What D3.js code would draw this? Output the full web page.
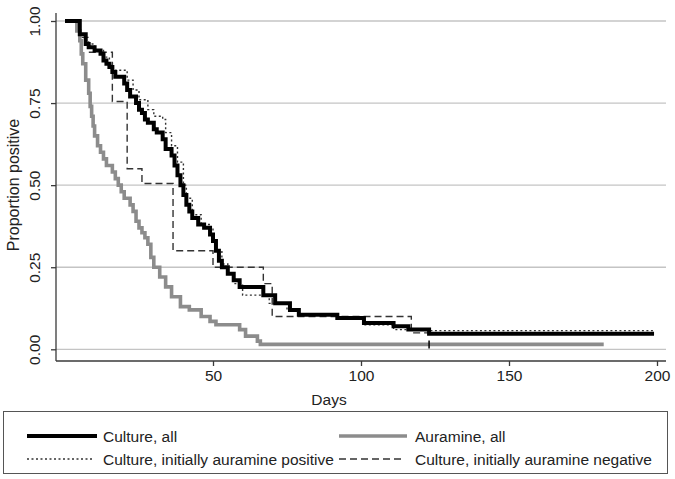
<!DOCTYPE html>
<html>
<head>
<meta charset="utf-8">
<script src="https://cdn.jsdelivr.net/npm/d3@7"></script>
<style>
  body { margin: 0; background: #fff; }
  svg { display: block; }
  text { font-family: "Liberation Sans", Arial, sans-serif; fill: #222; }
</style>
</head>
<body>
<svg id="chart" width="675" height="479"></svg>
<script>
// Kaplan-Meier style step curves: [day, proportion still positive]
var cultureAll = [
  [0, 1.0], [5, 0.96], [7, 0.93], [8, 0.92], [10, 0.91], [12, 0.90], [13, 0.88],
  [14, 0.87], [15, 0.86], [16, 0.845], [17, 0.83], [20, 0.81], [21, 0.79],
  [22, 0.77], [24, 0.75], [25, 0.73], [26, 0.72], [27, 0.70], [28, 0.69],
  [30, 0.67], [31, 0.66], [33, 0.64], [34, 0.61], [36, 0.59], [37, 0.56],
  [38, 0.53], [39, 0.50], [40, 0.47], [41, 0.44], [42, 0.42], [43, 0.40],
  [45, 0.38], [47, 0.37], [49, 0.35], [50, 0.33], [51, 0.30], [52, 0.27],
  [53, 0.25], [55, 0.23], [57, 0.21], [59, 0.19], [67, 0.165], [71, 0.14],
  [76, 0.12], [79, 0.105], [92, 0.095], [101, 0.08], [111, 0.07], [116, 0.06],
  [123, 0.047], [199, 0.047]
];

var auramineAll = [
  [0, 1.0], [4, 0.97], [5, 0.94], [5.5, 0.90], [6, 0.87], [7, 0.82], [8, 0.78],
  [8.5, 0.74], [9, 0.71], [9.5, 0.68], [10, 0.65], [11, 0.62], [12, 0.60],
  [13, 0.58], [14, 0.56], [16, 0.54], [17, 0.52], [18, 0.50], [19, 0.48],
  [20, 0.46], [22, 0.44], [23, 0.42], [24, 0.39], [25, 0.37], [26, 0.355],
  [27, 0.34], [28, 0.32], [29, 0.28], [30, 0.25], [32, 0.22], [34, 0.19],
  [36, 0.16], [39, 0.13], [42, 0.12], [46, 0.10], [49, 0.085], [51, 0.075],
  [59, 0.06], [61, 0.04], [65, 0.025], [66, 0.015], [182, 0.015]
];

var cultureAurPos = [
  [0, 1.0], [5, 0.96], [7, 0.93], [10, 0.91], [13, 0.89], [15, 0.87], [16, 0.85],
  [21, 0.82], [23, 0.79], [25, 0.76], [28, 0.73], [30, 0.71], [33, 0.70],
  [34, 0.66], [36, 0.62], [38, 0.57], [40, 0.50], [41, 0.46], [43, 0.41],
  [46, 0.38], [49, 0.37], [50, 0.34], [51, 0.30], [53, 0.26], [55, 0.23],
  [57, 0.20], [60, 0.165], [69, 0.14], [75, 0.12], [79, 0.105], [92, 0.095],
  [101, 0.075], [111, 0.06], [123, 0.057], [199, 0.057]
];

var cultureAurNeg = [
  [0, 1.0], [5, 0.95], [8, 0.905], [16, 0.755], [21, 0.55], [26, 0.505],
  [36.5, 0.30], [50, 0.25], [67, 0.20], [70, 0.10], [117, 0.05], [199, 0.05]
];

var censorDays = [123];
var xTicks = [50, 100, 150, 200];
var yTicks = [0, 0.25, 0.5, 0.75, 1];

var svg = d3.select("#chart");

var x = d3.scaleLinear().domain([0, 200]).range([65, 657]);
var y = d3.scaleLinear().domain([0, 1]).range([349.3, 21]);

// gridlines
svg.append("g")
  .selectAll("line")
  .data(yTicks)
  .enter()
  .append("line")
  .attr("x1", 56).attr("x2", 666)
  .attr("y1", function(d){ return y(d); })
  .attr("y2", function(d){ return y(d); })
  .attr("stroke", "#c4c4c4")
  .attr("stroke-width", 1.3);

// y axis
var yAxis = svg.append("g")
  .attr("transform", "translate(56,0)")
  .call(d3.axisLeft(y).tickValues(yTicks).tickFormat(d3.format(".2f")).tickSize(5));
yAxis.select(".domain").attr("d", "M0,13V361");
yAxis.selectAll("text")
  .attr("transform", "translate(-16,0) rotate(-90)")
  .attr("x", 0).attr("y", 0).attr("dy", 0)
  .attr("text-anchor", "middle")
  .style("font-size", "15.5px");

// x axis
var xAxis = svg.append("g")
  .attr("transform", "translate(0,361)")
  .call(d3.axisBottom(x).tickValues(xTicks).tickSize(5).tickPadding(4));
xAxis.select(".domain").attr("d", "M56,0H666");
xAxis.selectAll("text").style("font-size", "15.5px");

svg.selectAll(".domain, .tick line").attr("stroke", "#3a3a3a").attr("stroke-width", 1.3);
svg.selectAll(".tick text").style("fill", "#222").style("font-family", "Liberation Sans, Arial, sans-serif");

svg.append("text")
  .attr("x", 329).attr("y", 405)
  .attr("text-anchor", "middle")
  .style("font-size", "15.5px")
  .text("Days");

svg.append("text")
  .attr("transform", "translate(19,185) rotate(-90)")
  .attr("text-anchor", "middle")
  .style("font-size", "16px")
  .text("Proportion positive");

// curves
var line = d3.line()
  .x(function(d){ return x(d[0]); })
  .y(function(d){ return y(d[1]); })
  .curve(d3.curveStepAfter);

var series = [
  { data: cultureAurNeg, color: "#333", width: 1.4, dash: "7,4" },
  { data: cultureAurPos, color: "#333", width: 1.4, dash: "2,2.5" },
  { data: auramineAll, color: "#8c8c8c", width: 3.6, dash: null },
  { data: cultureAll, color: "#000", width: 4, dash: null }
];

svg.append("g")
  .selectAll("path")
  .data(series)
  .enter()
  .append("path")
  .attr("d", function(d){ return line(d.data); })
  .attr("fill", "none")
  .attr("stroke", function(d){ return d.color; })
  .attr("stroke-width", function(d){ return d.width; })
  .attr("stroke-dasharray", function(d){ return d.dash; })
  .attr("stroke-linejoin", "miter");

// censoring tick
svg.append("g")
  .selectAll("line")
  .data(censorDays)
  .enter()
  .append("line")
  .attr("x1", function(d){ return x(d); })
  .attr("x2", function(d){ return x(d); })
  .attr("y1", y(0.015) - 4).attr("y2", y(0.015) + 4)
  .attr("stroke", "#000").attr("stroke-width", 1.5);

// legend
var legendItems = [
  { label: "Culture, all", color: "#000", width: 4, dash: null, col: 0, row: 0, len: 70 },
  { label: "Auramine, all", color: "#8c8c8c", width: 3.6, dash: null, col: 1, row: 0, len: 68 },
  { label: "Culture, initially auramine positive", color: "#333", width: 1.4, dash: "2,2.5", col: 0, row: 1, len: 66 },
  { label: "Culture, initially auramine negative", color: "#333", width: 1.4, dash: "7,4", col: 1, row: 1, len: 66 }
];

svg.append("rect")
  .attr("x", 3.5).attr("y", 411.5)
  .attr("width", 664).attr("height", 62)
  .attr("fill", "none")
  .attr("stroke", "#555")
  .attr("stroke-width", 1);

var colX = [27, 339];
var rowY = [436, 459];

var leg = svg.append("g")
  .selectAll("g")
  .data(legendItems)
  .enter()
  .append("g")
  .attr("transform", function(d){ return "translate(" + colX[d.col] + "," + rowY[d.row] + ")"; });

leg.append("line")
  .attr("x1", 0).attr("x2", function(d){ return d.len; })
  .attr("y1", 0).attr("y2", 0)
  .attr("stroke", function(d){ return d.color; })
  .attr("stroke-width", function(d){ return d.width; })
  .attr("stroke-dasharray", function(d){ return d.dash; });

leg.append("text")
  .attr("x", 76).attr("y", 5.5)
  .style("font-size", "15.5px")
  .text(function(d){ return d.label; });
</script>
</body>
</html>
